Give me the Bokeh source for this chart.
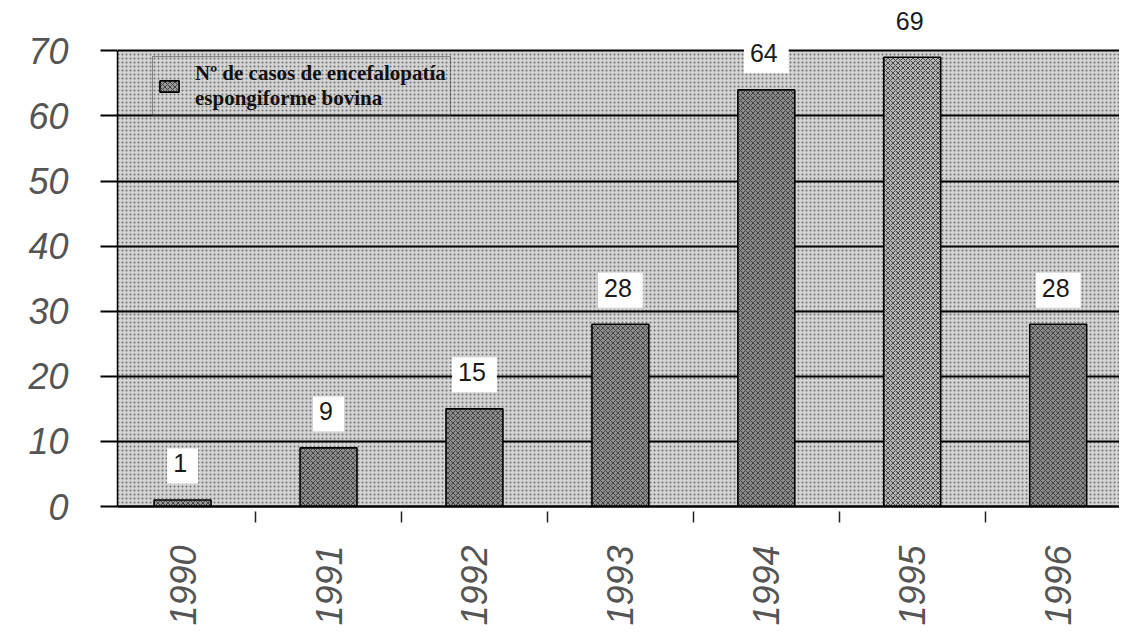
import math
from bokeh.plotting import figure
from bokeh.models import (ColumnDataSource, FixedTicker, BoxAnnotation, Legend, LegendItem)
from bokeh.core.properties import value
from bokeh.embed import file_html
from bokeh.resources import INLINE

years = ["1990", "1991", "1992", "1993", "1994", "1995", "1996"]
cases = [1, 9, 15, 28, 64, 69, 28]
y_ticks = [0, 10, 20, 30, 40, 50, 60, 70]
series_label = "Nº de casos de encefalopatía\nespongiforme bovina"
bar_colors = ["#9a9a9a", "#8e8e8e", "#8e8e8e", "#8e8e8e", "#8a8a8a", "#b4b4b4", "#8a8a8a"]

xs = list(range(len(years)))
src = ColumnDataSource(dict(x=xs, top=cases, label=[str(c) for c in cases], color=bar_colors))

p = figure(width=1119, height=628, output_backend="svg", toolbar_location=None,
           x_range=(-0.446, 6.42), y_range=(0, 76.5),
           min_border_left=117, min_border_right=0, min_border_top=8, min_border_bottom=122)
p.outline_line_color = None
p.background_fill_color = "white"
p.border_fill_color = "white"

# stippled background up to 70
bg = BoxAnnotation(bottom=0, top=70, fill_color="#d4d4d4", fill_alpha=1,
                   hatch_pattern="dot", hatch_color="#6e6e6e", hatch_scale=4, hatch_weight=1.1,
                   line_color=None, level="image")
p.add_layout(bg)

bars = p.vbar(x="x", top="top", bottom=0, width=0.39, source=src,
              fill_color="color", line_color="black", line_width=1.6,
              hatch_pattern="x", hatch_color="#3a3a3a", hatch_scale=5, hatch_weight=0.9)

p.text(x="x", y="top", text="label", source=src, text_align="center", text_baseline="middle",
       y_offset=-34, text_font=value("Liberation Sans"), text_font_size="25px", text_color="#1a1a1a",
       background_fill_color="white", padding=[6, 11, 6, 11])

# axes
p.yaxis.ticker = FixedTicker(ticks=y_ticks)
p.yaxis.bounds = (0, 70)
p.yaxis.axis_line_color = "black"
p.yaxis.axis_line_width = 1.5
p.yaxis.major_tick_in = 0
p.yaxis.major_tick_out = 17
p.yaxis.major_tick_line_width = 2
p.yaxis.minor_tick_line_color = None
p.yaxis.major_label_standoff = 32
p.yaxis.major_label_text_font = "Liberation Sans"
p.yaxis.major_label_text_font_style = "italic"
p.yaxis.major_label_text_font_size = "36px"
p.yaxis.major_label_text_color = "#555555"

p.xaxis.ticker = FixedTicker(ticks=xs, minor_ticks=[i - 0.5 for i in xs] + [len(xs) - 0.5])
p.xaxis.major_label_overrides = {i: y for i, y in zip(xs, years)}
p.xaxis.major_label_orientation = math.pi / 2
p.xaxis.axis_line_color = "black"
p.xaxis.axis_line_width = 2.5
p.xaxis.major_tick_line_color = None
p.xaxis.major_tick_out = 0
p.xaxis.minor_tick_in = -5
p.xaxis.minor_tick_out = 16
p.xaxis.minor_tick_line_width = 1.5
p.xaxis.minor_tick_line_color = "#222222"
p.xaxis.major_label_standoff = 23
p.xaxis.major_label_text_font = "Liberation Sans"
p.xaxis.major_label_text_font_style = "italic"
p.xaxis.major_label_text_font_size = "36px"
p.xaxis.major_label_text_color = "#555555"

p.xgrid.grid_line_color = None
p.ygrid.ticker = FixedTicker(ticks=y_ticks)
p.ygrid.grid_line_color = "black"
p.ygrid.grid_line_width = 1.8

legend = Legend(items=[LegendItem(label=series_label, renderers=[bars])],
                location=(35, 390))
legend.label_text_font = "Liberation Serif"
legend.label_text_font_style = "bold"
legend.label_text_font_size = "21px"
legend.label_text_color = "#111111"
legend.label_text_line_height = 0.85
legend.background_fill_alpha = 0
legend.border_line_color = "#333333"
legend.border_line_width = 1
legend.glyph_width = 24
legend.glyph_height = 14
legend.padding = 4
legend.margin = 0
legend.label_standoff = 14
p.add_layout(legend, "center")

open("out.html", "w").write(file_html(p, INLINE))
